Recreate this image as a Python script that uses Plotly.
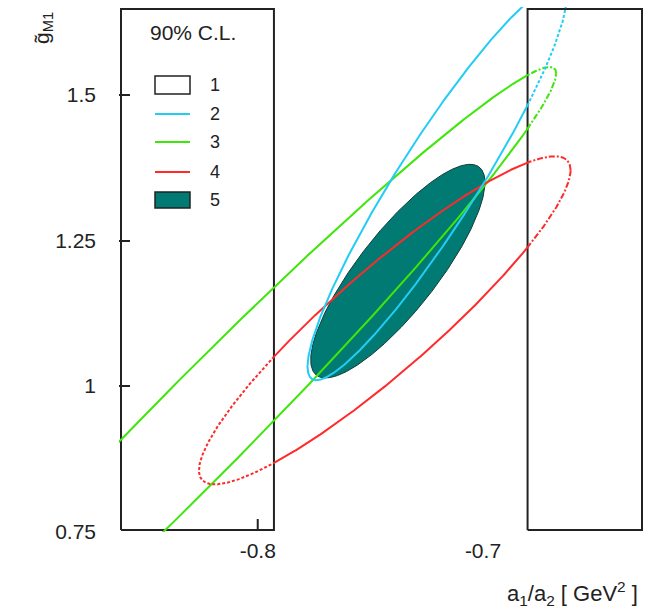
import numpy as np
import plotly.graph_objects as go

# ---- data ----
X_LIM = [-0.8607, -0.6294]          # frame of the plot in x
Y_LIM = [0.7526, 1.6478]            # frame of the plot in y
BAND_1 = [-0.7928, -0.6802]         # contour 1: allowed band in a1/a2

CONTOUR_IDS = ["2", "3", "4", "5"]
CENTER_X = [-0.7204, -0.8255, -0.7436, -0.7378]
CENTER_Y = [1.3500, 0.9290, 1.1129, 1.1974]
HALF_X = [0.0575, 0.1580, 0.0825, 0.0387]
HALF_Y = [0.3400, 0.6192, 0.2819, 0.1836]
CORR = [0.9308, 0.9819, 0.9150, 0.8300]
COLORS = ["#22ccf5", "#3ee60a", "#ff2a2a", "#007a72"]

X_TICKS = [-0.8, -0.7]
X_TICK_TEXT = ["-0.8", "-0.7"]
Y_TICKS = [0.75, 1.0, 1.25, 1.5]
Y_TICK_TEXT = ["0.75", "1", "1.25", "1.5"]

FONT = "Liberation Sans, Arial, Helvetica, sans-serif"

# ---- figure geometry ----
W, H = 647, 608
PL, PR, PT, PB = 119, 644, 7, 532   # plot area in pixels
pw, ph = PR - PL, PB - PT
# axis range padded by 2 px around the frame
xs = (X_LIM[1] - X_LIM[0]) / (pw - 4)
ys = (Y_LIM[1] - Y_LIM[0]) / (ph - 4)
X_RANGE = [X_LIM[0] - 2 * xs, X_LIM[1] + 2 * xs]
Y_RANGE = [Y_LIM[0] - 2 * ys, Y_LIM[1] + 2 * ys]


def px(x):
    return (x - PL) / pw


def py(y):
    return (PB - y) / ph


def ellipse(cx, cy, sx, sy, r, n=1441):
    t = np.linspace(0, 2 * np.pi, n)
    x = cx + sx * np.cos(t)
    y = cy + sy * (r * np.cos(t) + np.sqrt(1 - r * r) * np.sin(t))
    return x, y


def grow(mask):
    m = mask.copy()
    m[1:] |= mask[:-1]
    m[:-1] |= mask[1:]
    return m


fig = go.Figure()

# contour 5 (filled)
ex, ey = ellipse(CENTER_X[3], CENTER_Y[3], HALF_X[3], HALF_Y[3], CORR[3])
fig.add_trace(go.Scatter(x=ex, y=ey, mode="lines", fill="toself",
                         fillcolor=COLORS[3],
                         line=dict(color="#123c38", width=1),
                         hoverinfo="skip", showlegend=False))

# contour 1 (two boxes outside the allowed band)
for x0, x1 in [(X_LIM[0], BAND_1[0]), (BAND_1[1], X_LIM[1])]:
    fig.add_trace(go.Scatter(
        x=[x0, x1, x1, x0, x0], y=[Y_LIM[0], Y_LIM[0], Y_LIM[1], Y_LIM[1], Y_LIM[0]],
        mode="lines", line=dict(color="#222222", width=2),
        hoverinfo="skip", showlegend=False))

# contours 3, 4, 2 (lines); broken where they run inside the boxes
for i in [1, 2, 0]:
    cid = CONTOUR_IDS[i]
    ex, ey = ellipse(CENTER_X[i], CENTER_Y[i], HALF_X[i], HALF_Y[i], CORR[i])
    right = ex > BAND_1[1]
    left = ex < BAND_1[0]
    parts = [(right, "3px,2px" if cid == "2" else "6px,2px,2px,2px")]
    if cid == "4":
        parts.append((left, "3px,2px"))
    solid = np.ones_like(ex, dtype=bool)
    for msk, _ in parts:
        solid &= ~msk
    fig.add_trace(go.Scatter(x=ex, y=np.where(grow(solid), ey, np.nan), mode="lines",
                             line=dict(color=COLORS[i], width=2),
                             connectgaps=False, hoverinfo="skip", showlegend=False))
    for msk, dash in parts:
        fig.add_trace(go.Scatter(x=ex, y=np.where(grow(msk), ey, np.nan), mode="lines",
                                 line=dict(color=COLORS[i], width=2, dash=dash),
                                 connectgaps=False, hoverinfo="skip", showlegend=False))

shapes = []
# x tick at -0.8 (inside)
shapes.append(dict(type="line", xref="x", yref="paper", x0=X_TICKS[0], x1=X_TICKS[0],
                   y0=py(530), y1=py(519), line=dict(color="#222222", width=2)))

# legend (drawn by hand)
annotations = []
annotations.append(dict(text="90% C.L.", x=px(193), y=py(32), xref="paper", yref="paper",
                        showarrow=False, font=dict(family=FONT, size=21, color="#222222"),
                        xanchor="center", yanchor="middle"))
leg_rows = [85, 114, 142, 172, 200]
leg_ids = ["1"] + CONTOUR_IDS
for k, (row, lid) in enumerate(zip(leg_rows, leg_ids)):
    if lid == "1":
        shapes.append(dict(type="rect", xref="paper", yref="paper",
                           x0=px(155), x1=px(190), y0=py(94), y1=py(76),
                           line=dict(color="#222222", width=1.5), fillcolor="white"))
    elif lid == "5":
        shapes.append(dict(type="rect", xref="paper", yref="paper",
                           x0=px(155), x1=px(190), y0=py(208), y1=py(192),
                           line=dict(color="#222222", width=1.5), fillcolor=COLORS[3]))
    else:
        shapes.append(dict(type="line", xref="paper", yref="paper",
                           x0=px(155), x1=px(190), y0=py(row), y1=py(row),
                           line=dict(color=COLORS[k - 1], width=2)))
    annotations.append(dict(text=lid, x=px(215), y=py(row), xref="paper", yref="paper",
                            showarrow=False, font=dict(family=FONT, size=18, color="#222222"),
                            xanchor="center", yanchor="middle"))

# axis titles
annotations.append(dict(text="g\u0303<sub>M1</sub>", x=px(43), y=py(28), xref="paper", yref="paper",
                        showarrow=False, textangle=-90,
                        font=dict(family=FONT, size=21, color="#222222"),
                        xanchor="center", yanchor="middle"))
annotations.append(dict(text="a<sub>1</sub>/a<sub>2</sub> [ GeV<sup>2</sup> ]",
                        x=px(572), y=py(593), xref="paper", yref="paper",
                        showarrow=False, font=dict(family=FONT, size=22, color="#222222"),
                        xanchor="center", yanchor="middle"))

fig.update_layout(
    width=W, height=H,
    margin=dict(l=PL, r=W - PR, t=PT, b=H - PB, pad=0),
    paper_bgcolor="white", plot_bgcolor="white",
    showlegend=False,
    shapes=shapes, annotations=annotations,
    xaxis=dict(range=X_RANGE, showgrid=False, zeroline=False, showline=False,
               tickvals=X_TICKS, ticktext=X_TICK_TEXT, ticks="",
               ticklabelstandoff=4,
               tickfont=dict(family=FONT, size=21, color="#222222")),
    yaxis=dict(range=Y_RANGE, showgrid=False, zeroline=False, showline=False,
               tickvals=Y_TICKS, ticktext=Y_TICK_TEXT, ticks="inside",
               ticklen=11, tickwidth=2, tickcolor="#222222",
               ticklabelstandoff=22,
               tickfont=dict(family=FONT, size=21, color="#222222")),
)

fig.write_html("out.html", config={"displayModeBar": False},
               post_script="document.body.style.margin='0px';document.body.style.overflow='hidden';")
